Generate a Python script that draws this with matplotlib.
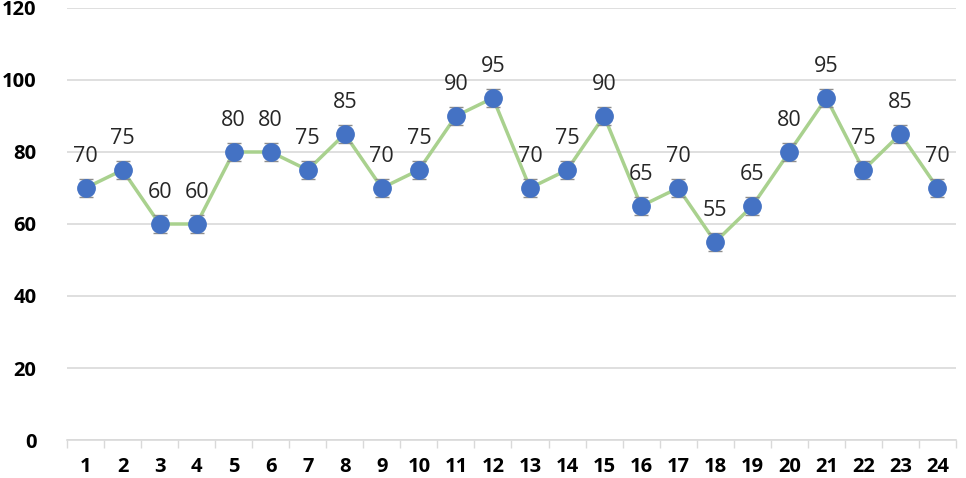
import matplotlib
matplotlib.use("Agg")
import matplotlib.pyplot as plt
import numpy as np

categories = [str(i) for i in range(1, 25)]
values = [70, 75, 60, 60, 80, 80, 75, 85, 70, 75, 90, 95, 70, 75, 90, 65, 70, 55, 65, 80, 95, 75, 85, 70]
err = [2.5] * 24
yticks = [0, 20, 40, 60, 80, 100, 120]

plt.rcParams['font.family'] = ['Open Sans', 'DejaVu Sans']

fig = plt.figure(figsize=(9.66, 4.78), dpi=100)
ax = fig.add_axes([67/966, 1 - 440/478, (956-67)/966, (440-8)/478])

x = np.arange(len(values))
ax.plot(x, values, color='#a9d18e', lw=2.5, zorder=2)
ax.errorbar(x, values, yerr=err, fmt='none', ecolor='#8c8c8c', elinewidth=1.2, capsize=5, zorder=3)
ax.plot(x, values, 'o', color='#4472c4', markersize=12.5, zorder=4)

for xi, v in zip(x, values):
    ax.annotate(str(v), (xi, v), xytext=(0, 15), textcoords='offset points',
                ha='center', va='bottom', fontsize=15.5, color='#262626')

ax.set_xlim(-0.5, len(values) - 0.5)
ax.set_ylim(0, 120)
ax.set_yticks(yticks)
ax.set_yticklabels([str(t) for t in yticks], fontsize=14.5, fontweight='bold')
ax.set_xticks(x)
ax.set_xticklabels(categories, fontsize=14.5, fontweight='bold')
ax.set_xticks(np.arange(-0.5, len(values)), minor=True)
ax.tick_params(axis='x', which='major', length=0, pad=12)
ax.tick_params(axis='x', which='minor', length=6, color='#d9d9d9', width=1)
ax.tick_params(axis='y', length=0, pad=22)
ax.grid(axis='y', color='#d9d9d9', lw=1.2)
ax.set_axisbelow(True)
for s in ['top', 'right', 'left']:
    ax.spines[s].set_visible(False)
ax.spines['bottom'].set_color('#d9d9d9')
ax.spines['bottom'].set_linewidth(1.2)

fig.savefig('out.png', dpi=100)
